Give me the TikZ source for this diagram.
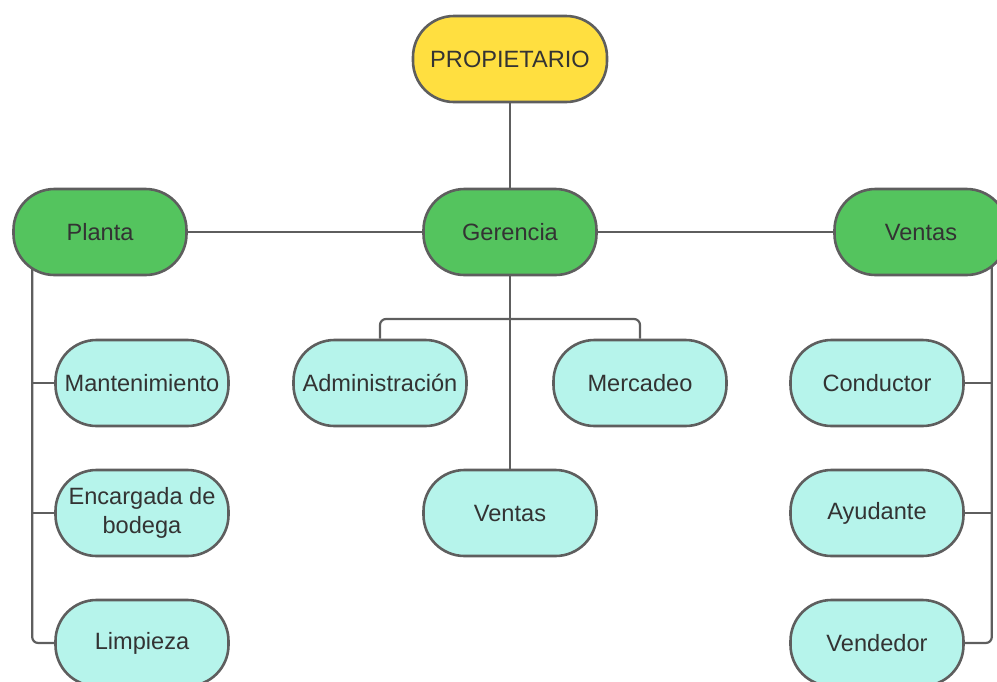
\documentclass[tikz,border=0pt]{standalone}
\usepackage{fontspec}
\setmainfont{Liberation Sans}
\definecolor{boxline}{RGB}{94, 94, 94}
\definecolor{ownyellow}{RGB}{255, 223, 64}
\definecolor{areagreen}{RGB}{84, 196, 94}
\definecolor{staffcyan}{RGB}{182, 244, 235}
\definecolor{txtgray}{RGB}{51, 51, 51}
\usetikzlibrary{positioning, calc, backgrounds}

\begin{document}
\begin{tikzpicture}[x=1pt, y=-1pt,
    orgbox/.style={draw=boxline, line width=2.6pt, rounded corners=41pt,
      minimum width=173pt, minimum height=86pt, align=center,
      text=txtgray, font=\fontsize{23.6}{29.5}\selectfont},
    top/.style={orgbox, fill=ownyellow, minimum width=194pt},
    area/.style={orgbox, fill=areagreen},
    staff/.style={orgbox, fill=staffcyan},
    link/.style={draw=boxline, line width=2.2pt, rounded corners=6pt}]
        \path[use as bounding box, clip] (0,0) rectangle (997,681);

        % levels
        \node[top] (propietario) at (510, 59) {PROPIETARIO};
        \node[area] (gerencia) at (510, 232) {Gerencia};
        \node[area] (planta) at (100, 232) {Planta};
        \node[area] (ventas) at (921, 232) {Ventas};

        \node[staff] (mant) at (142, 383) {Mantenimiento};
        \node[staff] (bodega) at (142, 513) {Encargada de\\bodega};
        \node[staff] (limpieza) at (142, 643) {Limpieza};

        \node[staff] (admin) at (380, 383) {Administración};
        \node[staff] (mercadeo) at (640, 383) {Mercadeo};
        \node[staff] (ventasg) at (510, 513) {Ventas};

        \node[staff] (conductor) at (877, 383) {Conductor};
        \node[staff] (ayudante) at (877, 513) {Ayudante};
        \node[staff] (vendedor) at (877, 643) {Vendedor};

        \coordinate (pl) at ($(planta.west)+(20,0)$);
        \coordinate (vr) at ($(ventas.east)+(-17,0)$);
        \coordinate (bar) at (510, 319);

        \begin{scope}[on background layer]
          \draw[link] (propietario) -- (gerencia);
          \draw[link] (planta) -- (gerencia);
          \draw[link] (gerencia) -- (ventas);
          \draw[link] (gerencia) -- (ventasg);
          \draw[link] (admin.north) |- (bar) -| (mercadeo.north);

          \draw[link] (pl) |- (limpieza.west);
          \draw[link] (mant.west) -- (mant.west -| pl);
          \draw[link] (bodega.west) -- (bodega.west -| pl);

          \draw[link] (vr) |- (vendedor.east);
          \draw[link] (conductor.east) -- (conductor.east -| vr);
          \draw[link] (ayudante.east) -- (ayudante.east -| vr);
        \end{scope}
      \end{tikzpicture}
\end{document}
